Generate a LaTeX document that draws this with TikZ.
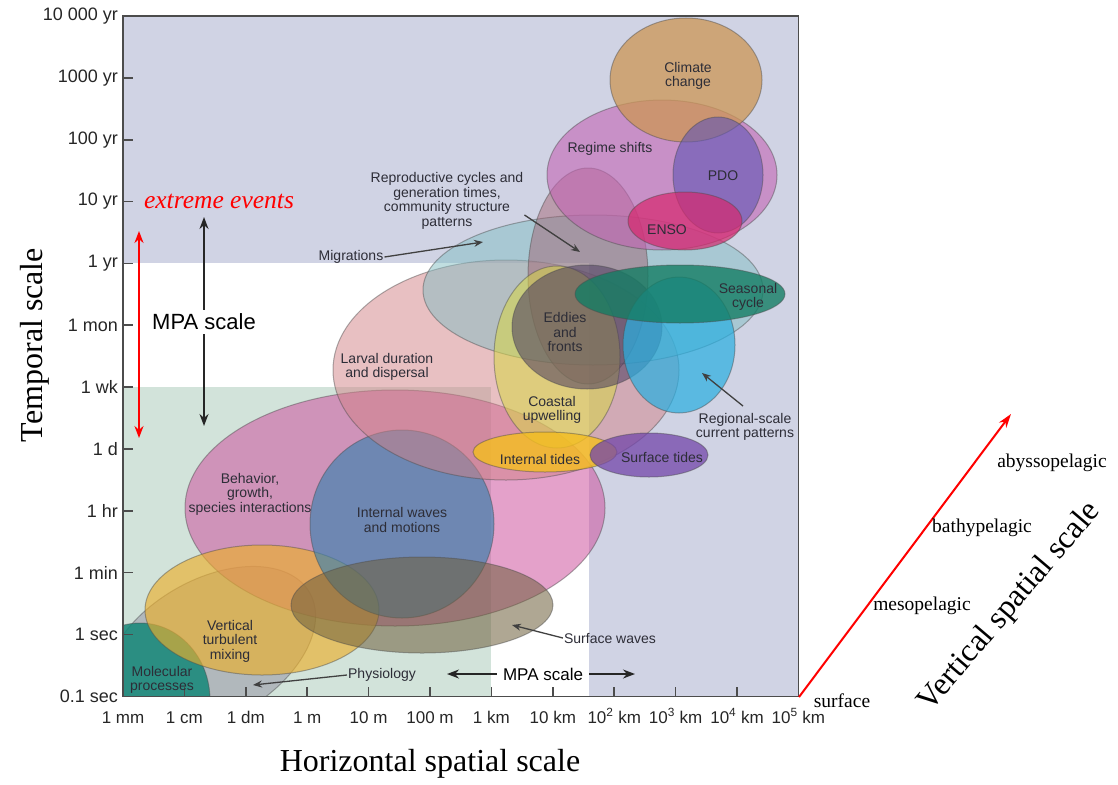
\documentclass[tikz,border=0pt]{standalone}
\usepackage{fontspec}
\setmainfont{Liberation Serif}
\setsansfont{Liberation Sans}
\usetikzlibrary{arrows.meta, calc}

\definecolor{lavbg}{RGB}{208,211,228}
\definecolor{greenbg}{RGB}{210,227,218}
\definecolor{physc}{RGB}{150,150,165}
\definecolor{behavc}{RGB}{205,75,155}
\definecolor{molc}{RGB}{20,135,120}
\definecolor{mixc}{RGB}{235,175,45}
\definecolor{iwavec}{RGB}{58,130,175}
\definecolor{swavec}{RGB}{110,95,60}
\definecolor{larvc}{RGB}{210,130,135}
\definecolor{migc}{RGB}{130,190,195}
\definecolor{reproc}{RGB}{160,90,105}
\definecolor{coastc}{RGB}{215,215,70}
\definecolor{eddyc}{RGB}{75,60,95}
\definecolor{regc}{RGB}{40,175,225}
\definecolor{seasc}{RGB}{20,125,100}
\definecolor{itidec}{RGB}{245,190,30}
\definecolor{stidec}{RGB}{115,70,170}
\definecolor{regimec}{RGB}{195,100,180}
\definecolor{climc}{RGB}{205,150,85}
\definecolor{pdoc}{RGB}{95,85,180}
\definecolor{ensoc}{RGB}{215,40,110}
\definecolor{labelgray}{RGB}{45,45,55}

\begin{document}
\begin{tikzpicture}[
  x=1pt, y=-1pt,
  font=\sffamily,
  blob/.style 2 args={fill=#1, fill opacity=#2, draw=black!70, draw opacity=0.45, line width=1pt},
  blobtext/.style={font=\sffamily\fontsize{14}{14.5}\selectfont, text=labelgray, align=center, inner sep=1pt},
  ytick/.style={anchor=east, inner sep=0pt, font=\sffamily\fontsize{18}{20}\selectfont, text=black!85},
  xtick/.style={anchor=base, inner sep=0pt, font=\sffamily\fontsize{17}{20}\selectfont, text=black!85},
  axisline/.style={draw=black!70, line width=1.6pt},
  axistitle/.style={font=\rmfamily\fontsize{32}{36}\selectfont, inner sep=0pt},
  depthlbl/.style={font=\rmfamily\fontsize{19.5}{22}\selectfont, inner sep=0pt},
  pointer/.style={-{Stealth[length=9pt, width=7pt]}, line width=1.3pt, draw=black!75},
  mpaarrow/.style={-{Stealth[length=12pt, width=9pt]}, line width=1.5pt, draw=black!85},
  redarrow/.style={{Stealth[length=12pt, width=9pt]}-{Stealth[length=12pt, width=9pt]}, line width=2pt, draw=red}
]
\useasboundingbox (0,0) rectangle (1118,784);

% --- background zones of the plot ---
\fill[lavbg] (123,16) rectangle (798.4,696.4);
\fill[white] (123,263.2) rectangle (589,696.4);
\fill[greenbg] (123,386.8) rectangle (491.4,696.4);

% --- process ellipses, clipped to the plot ---
\begin{scope}
  \clip (123,16) rectangle (798.4,696.4);
  \draw[blob={physc}{0.55}, rotate around={30:(210,650)}] (210,650) ellipse [x radius=115pt, y radius=70pt];
  \draw[blob={behavc}{0.52}] (395,508) ellipse [x radius=210pt, y radius=118pt];
  \draw[blob={molc}{0.85}] (140,700) ellipse [x radius=70pt, y radius=77pt];
  \draw[blob={mixc}{0.65}] (262,610) ellipse [x radius=117pt, y radius=65pt];
  \draw[blob={iwavec}{0.65}] (402,524) ellipse [x radius=92pt, y radius=94pt];
  \draw[blob={swavec}{0.55}] (422,605) ellipse [x radius=131pt, y radius=48pt];
  \draw[blob={larvc}{0.5}] (506,370) ellipse [x radius=173pt, y radius=110pt];
  \draw[blob={migc}{0.5}] (593,290) ellipse [x radius=170pt, y radius=75pt];
  \draw[blob={reproc}{0.45}] (588,276) ellipse [x radius=60pt, y radius=108pt];
  \draw[blob={coastc}{0.55}] (557,357) ellipse [x radius=63pt, y radius=91pt];
  \draw[blob={eddyc}{0.55}] (587,327) ellipse [x radius=75pt, y radius=62pt];
  \draw[blob={regc}{0.7}] (679,345) ellipse [x radius=56pt, y radius=68pt];
  \draw[blob={seasc}{0.8}] (680,294) ellipse [x radius=105pt, y radius=29pt];
  \draw[blob={itidec}{0.8}] (545,452) ellipse [x radius=72pt, y radius=20pt];
  \draw[blob={stidec}{0.75}] (649,455) ellipse [x radius=59pt, y radius=22pt];
  \draw[blob={regimec}{0.6}] (662,175) ellipse [x radius=115pt, y radius=75pt];
  \draw[blob={climc}{0.75}] (686,80) ellipse [x radius=76pt, y radius=62pt];
  \draw[blob={pdoc}{0.6}] (718,175) ellipse [x radius=45pt, y radius=58pt];
  \draw[blob={ensoc}{0.7}] (685,221) ellipse [x radius=57pt, y radius=29pt];
\end{scope}

% --- frame and ticks ---
\draw[axisline] (123,16) rectangle (798.4,696.4);
\foreach \i in {1,...,11} {
  \draw[axisline] (123,16+61.85*\i) -- ++(10,0);
  \draw[axisline] (123+61.4*\i,696.4) -- ++(0,-9);
}
\foreach \lbl [count=\i from 0] in {10 000 yr,1000 yr,100 yr,10 yr,1 yr,1 mon,1 wk,1 d,1 hr,1 min,1 sec,0.1 sec}
  \node[ytick] (yt\i) at (118,16+61.85*\i) {\lbl};
\foreach \lbl [count=\i from 0] in {1 mm,1 cm,1 dm,1 m,10 m,100 m,1 km,10 km,10\textsuperscript{2} km,10\textsuperscript{3} km,10\textsuperscript{4} km,10\textsuperscript{5} km}
  \node[xtick] (xt\i) at (123+61.4*\i,723) {\lbl};

% --- labels of the ellipses ---
\node[blobtext] (climate) at (688,76) {Climate\\change};
\node[blobtext] (regime) at (610,149) {Regime shifts};
\node[blobtext] (pdo) at (723,176) {PDO};
\node[blobtext] (enso) at (667,230) {ENSO};
\node[blobtext] (seasonal) at (748,297) {Seasonal\\cycle};
\node[blobtext] (eddies) at (565,332) {Eddies\\and\\fronts};
\node[blobtext] (coastal) at (552,410) {Coastal\\upwelling};
\node[blobtext] (larval) at (387,367) {Larval duration\\and dispersal};
\node[blobtext] (itides) at (540,459) {Internal tides};
\node[blobtext] (stides) at (662,457) {Surface tides};
\node[blobtext] (behav) at (250,494) {Behavior,\\growth,\\species interactions};
\node[blobtext] (iwaves) at (402,520) {Internal waves\\and motions};
\node[blobtext] (mixing) at (230,641) {Vertical\\turbulent\\mixing};
\node[blobtext] (molec) at (162,680) {Molecular\\processes};

% labels outside, with pointers into their ellipse
\node[blobtext] (migr) at (351,257) {Migrations};
\node[blobtext] (repro) at (447,201) {Reproductive cycles and\\generation times,\\community structure\\patterns};
\node[blobtext] (regional) at (745,427) {Regional-scale\\current patterns};
\node[blobtext] (swaves) at (610,638) {Surface waves};
\node[blobtext] (physio) at (382,675) {Physiology};
\coordinate (migrtip) at (483,242);
\coordinate (reprotip) at (580,252);
\coordinate (regionaltip) at (702,373);
\coordinate (swavestip) at (512,625);
\coordinate (physiotip) at (253,685);
\draw[pointer] (migr.east) -- (migrtip);
\draw[pointer] (repro.east |- 0,215) -- (reprotip);
\draw[pointer] (regional.north) ++(-2,-6) -- (regionaltip);
\draw[pointer] (swaves.west) -- (swavestip);
\draw[pointer] (physio.west) -- (physiotip);

% --- MPA scale and extreme events ---
\node[font=\sffamily\fontsize{22}{24}\selectfont, inner sep=4pt] (mpav) at (204,322) {MPA scale};
\coordinate (mpatop) at (204,217);
\coordinate (mpabot) at (204,426);
\draw[mpaarrow] (mpav) -- (mpatop);
\draw[mpaarrow] (mpav) -- (mpabot);
\node[font=\sffamily\fontsize{17}{20}\selectfont, inner sep=6pt] (mpah) at (543,674) {MPA scale};
\coordinate (mpaleft) at (447,674);
\coordinate (mparight) at (635,674);
\draw[mpaarrow] (mpah) -- (mpaleft);
\draw[mpaarrow] (mpah) -- (mparight);
\node[font=\rmfamily\itshape\fontsize{25.5}{27}\selectfont, text=red, inner sep=0pt] (extreme) at (219,201) {extreme events};
\coordinate (extop) at (139,231);
\coordinate (exbot) at (139,438);
\draw[redarrow] (extop) -- (exbot);

% --- axis titles ---
\node[axistitle, rotate=90] (ttemp) at (35,345) {Temporal scale};
\node[axistitle] (thoriz) at (430,764) {Horizontal spatial scale};

% --- vertical spatial scale ---
\coordinate (surf0) at (799,697);
\coordinate (deep) at (1011,414);
\draw[-{Stealth[length=14pt, width=9pt]}, line width=2pt, red] (surf0) -- (deep);
\node[depthlbl] (surface) at (842,701) {surface};
\node[depthlbl] (meso) at (922,606) {mesopelagic};
\node[depthlbl] (bathy) at (982,528) {bathypelagic};
\node[depthlbl] (abysso) at (1052,463) {abyssopelagic};
\node[axistitle, rotate=49.6] (tvert) at (1010,607) {Vertical spatial scale};
\end{tikzpicture}
\end{document}
